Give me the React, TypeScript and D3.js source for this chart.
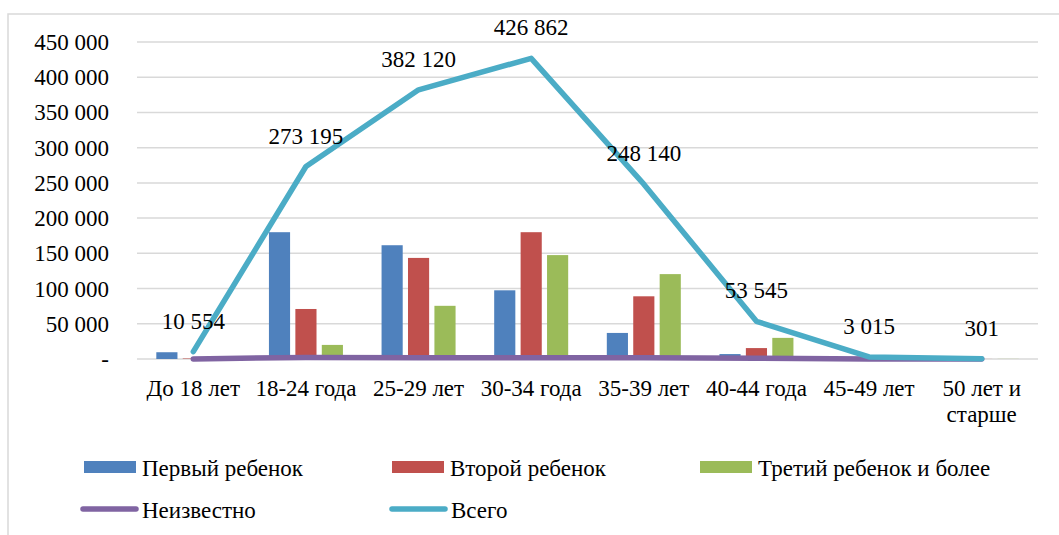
import React from 'react';
import * as d3 from 'd3';

const categories = ['До 18 лет', '18-24 года', '25-29 лет', '30-34 года', '35-39 лет', '40-44 года', '45-49 лет', '50 лет и старше'];
const first = [9600, 180000, 161500, 97500, 37000, 7000, 600, 60];
const second = [700, 71000, 143500, 180000, 89000, 15500, 900, 80];
const third = [100, 20000, 75500, 147500, 120500, 30000, 1400, 150];
const unknown = [154, 2195, 1620, 1862, 1640, 1045, 115, 11];
const total = [10554, 273195, 382120, 426862, 248140, 53545, 3015, 301];
const yTicks = [0, 50000, 100000, 150000, 200000, 250000, 300000, 350000, 400000, 450000];

const barSeries = [
  { name: 'Первый ребенок', color: '#4F81BD', values: first },
  { name: 'Второй ребенок', color: '#C0504D', values: second },
  { name: 'Третий ребенок и более', color: '#9BBB59', values: third },
];
const lineSeries = [
  { name: 'Неизвестно', color: '#8064A2', values: unknown },
  { name: 'Всего', color: '#4BACC6', values: total },
];

const W = 1059;
const H = 535;
const font = 'Liberation Serif';
const txt = { fontFamily: font, fontSize: 23, fill: '#000' } as React.CSSProperties;

const fmt = (v: number) => (v === 0 ? '-' : d3.format(',')(v).replace(/,/g, ' '));

export default function App() {
  const x = d3.scaleBand<string>().domain(categories).range([137, 1038]);
  const y = d3.scaleLinear().domain([0, 450000]).range([359, 42]);
  const groupW = 74;
  const inner = d3
    .scaleBand<string>()
    .domain(barSeries.map(s => s.name))
    .range([(x.bandwidth() - groupW) / 2, (x.bandwidth() + groupW) / 2])
    .paddingInner(0.2);
  const cx = (c: string) => (x(c) as number) + x.bandwidth() / 2;
  const line = d3
    .line<number>()
    .x((_, i) => cx(categories[i]))
    .y(d => y(d));

  // legend positions
  const legendRow1 = [84, 392, 700];
  const legendRow2 = [83, 392];

  return (
    <svg width={W} height={H} style={{ position: 'absolute', left: 0, top: 0, background: '#fff', fontFamily: font }}>
      <rect x={8} y={14} width={1100} height={600} fill="#fff" stroke="#d9d9d9" strokeWidth={1.5} />
      {yTicks.map(t => (
        <g key={t}>
          <line x1={137} x2={1038} y1={y(t)} y2={y(t)} stroke="#d9d9d9" strokeWidth={1.5} />
          <text x={109} y={y(t) + 8} textAnchor="end" style={txt}>
            {fmt(t)}
          </text>
        </g>
      ))}
      {barSeries.map(s =>
        categories.map((c, i) => (
          <rect
            key={s.name + c}
            x={(x(c) as number) + (inner(s.name) as number)}
            y={y(s.values[i])}
            width={inner.bandwidth()}
            height={y(0) - y(s.values[i])}
            fill={s.color}
          />
        ))
      )}
      {lineSeries.map(s => (
        <path key={s.name} d={line(s.values) || ''} fill="none" stroke={s.color} strokeWidth={5.5} strokeLinejoin="round" strokeLinecap="round" />
      ))}
      {total.map((v, i) => (
        <text key={'l' + i} x={cx(categories[i])} y={y(v) - 23} textAnchor="middle" style={txt}>
          {fmt(v)}
        </text>
      ))}
      {categories.map(c => {
        const parts = c === '50 лет и старше' ? ['50 лет и', 'старше'] : [c];
        return (
          <text key={c} x={cx(c)} y={396} textAnchor="middle" style={txt}>
            {parts.map((p, j) => (
              <tspan key={j} x={cx(c)} dy={j === 0 ? 0 : 26}>
                {p}
              </tspan>
            ))}
          </text>
        );
      })}
      {barSeries.map((s, i) => (
        <g key={s.name}>
          <rect x={legendRow1[i]} y={461} width={52} height={12} fill={s.color} />
          <text x={legendRow1[i] + 58} y={476} style={txt}>
            {s.name}
          </text>
        </g>
      ))}
      {lineSeries.map((s, i) => (
        <g key={s.name}>
          <line x1={legendRow2[i]} x2={legendRow2[i] + 53} y1={509} y2={509} stroke={s.color} strokeWidth={5.5} strokeLinecap="round" />
          <text x={legendRow2[i] + 59} y={518} style={txt}>
            {s.name}
          </text>
        </g>
      ))}
    </svg>
  );
}
